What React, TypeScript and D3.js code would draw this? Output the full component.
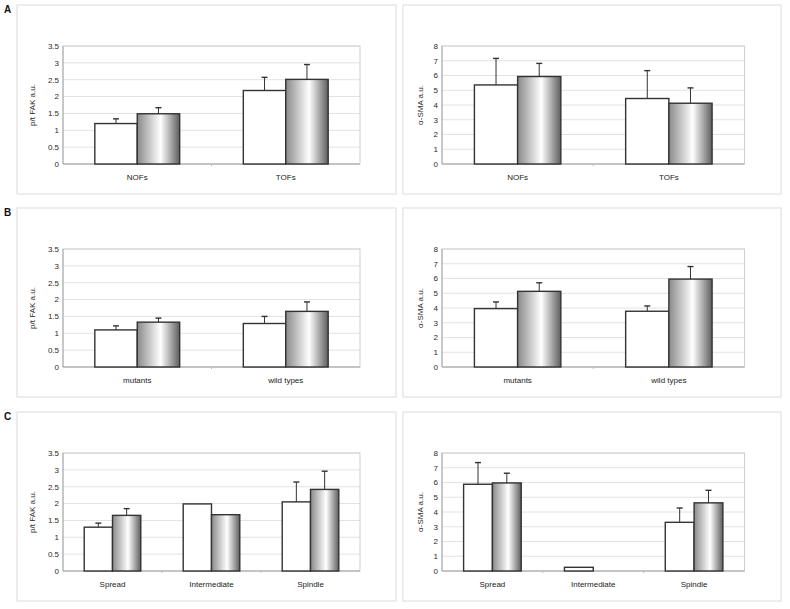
import React from "react";
import * as d3 from "d3";

// ---------- data ----------
const catsA = ["NOFs", "TOFs"];
const catsB = ["mutants", "wild types"];
const catsC = ["Spread", "Intermediate", "Spindle"];

const fakTicks = [0, 0.5, 1, 1.5, 2, 2.5, 3, 3.5];
const smaTicks = [0, 1, 2, 3, 4, 5, 6, 7, 8];

// A
const fakA_white = [1.2, 2.18];
const fakA_whiteErr = [0.14, 0.39];
const fakA_grey = [1.49, 2.51];
const fakA_greyErr = [0.18, 0.44];
const smaA_white = [5.36, 4.44];
const smaA_whiteErr = [1.8, 1.89];
const smaA_grey = [5.93, 4.12];
const smaA_greyErr = [0.89, 1.04];
// B
const fakB_white = [1.1, 1.29];
const fakB_whiteErr = [0.12, 0.21];
const fakB_grey = [1.33, 1.65];
const fakB_greyErr = [0.12, 0.28];
const smaB_white = [3.96, 3.78];
const smaB_whiteErr = [0.45, 0.36];
const smaB_grey = [5.13, 5.96];
const smaB_greyErr = [0.58, 0.85];
// C
const fakC_white = [1.3, 1.99, 2.05];
const fakC_whiteErr = [0.12, 0, 0.59];
const fakC_grey = [1.65, 1.67, 2.42];
const fakC_greyErr = [0.2, 0, 0.54];
const smaC_white = [5.88, 0.25, 3.3];
const smaC_whiteErr = [1.47, 0, 0.97];
const smaC_grey = [5.97, 0, 4.62];
const smaC_greyErr = [0.66, 0, 0.85];

const rowLetters = ["A", "B", "C"];

// ---------- layout ----------
const W = 790;
const H = 609;
const rowTops = [5, 208, 412];
const boxH = 189;
const colLefts = [17, 403];
const colWidths = [379, 378];
const plotLeftOff = [46, 39];
const plotWidths = [297, 302.5];
const plotTopOff = 41;
const plotBottomOff = 159;
const titleOff = [28, 19];
const FONT = "'Liberation Sans', Arial, sans-serif";

type PanelProps = {
  row: number;
  col: number;
  cats: string[];
  white: number[];
  whiteErr: number[];
  grey: number[];
  greyErr: number[];
  max: number;
  ticks: number[];
  title: string;
};

function Panel(p: PanelProps) {
  const bx = colLefts[p.col];
  const by = rowTops[p.row];
  const px = bx + plotLeftOff[p.col];
  const pw = plotWidths[p.col];
  const py = by + plotTopOff;
  const ph = plotBottomOff - plotTopOff;
  const y = d3.scaleLinear().domain([0, p.max]).range([py + ph, py]);
  const gap = 1.5 / 3.5;
  const x = d3
    .scaleBand<string>()
    .domain(p.cats)
    .range([px, px + pw])
    .paddingInner(gap)
    .paddingOuter(gap / 2);
  const xs = d3.scaleBand<string>().domain(["w", "g"]).range([0, x.bandwidth()]);
  const step = x.step();
  const series = [
    { key: "w", vals: p.white, errs: p.whiteErr, fill: "#ffffff" },
    { key: "g", vals: p.grey, errs: p.greyErr, fill: "url(#barGrad)" },
  ];
  return (
    <g>
      <rect x={bx} y={by} width={colWidths[p.col]} height={boxH} fill="#fff" stroke="#dcdcdc" strokeWidth={1} />
      {p.ticks.map((t) => (
        <line key={"g" + t} x1={px} x2={px + pw} y1={y(t)} y2={y(t)} stroke="#e2e2e2" strokeWidth={1} />
      ))}
      <rect x={px} y={py} width={pw} height={ph} fill="none" stroke="#cfcfcf" strokeWidth={1} />
      <line x1={px} x2={px} y1={py} y2={py + ph} stroke="#a8a8a8" strokeWidth={1} />
      <line x1={px} x2={px + pw} y1={py + ph} y2={py + ph} stroke="#a8a8a8" strokeWidth={1} />
      {p.cats.slice(1).map((c, i) => (
        <line key={"xt" + i} x1={px + step * (i + 1)} x2={px + step * (i + 1)} y1={py + ph} y2={py + ph + 2} stroke="#bbb" />
      ))}
      {p.ticks.map((t) => (
        <text key={"t" + t} x={px - 4} y={y(t)} dy="0.35em" textAnchor="end" fontSize={8} fill="#2a2a2a" fontFamily={FONT}>
          {String(t)}
        </text>
      ))}
      <text
        transform={`translate(${px - titleOff[p.col]},${py + ph / 2}) rotate(-90)`}
        textAnchor="middle"
        fontSize={8}
        fill="#2a2a2a"
        fontFamily={FONT}
      >
        {p.title}
      </text>
      {series.map((s) =>
        p.cats.map((c, i) => {
          const v = s.vals[i];
          if (!v) return null;
          const x0 = (x(c) as number) + (xs(s.key) as number);
          const bw = xs.bandwidth();
          return (
            <rect key={s.key + c} x={x0} y={y(v)} width={bw} height={y(0) - y(v)} fill={s.fill} stroke="#333" strokeWidth={1.4} />
          );
        })
      )}
      {series.map((s) =>
        p.cats.map((c, i) => {
          const v = s.vals[i];
          const e = s.errs[i];
          if (!v || !e) return null;
          const cx = (x(c) as number) + (xs(s.key) as number) + xs.bandwidth() / 2;
          return (
            <g key={"e" + s.key + c} stroke="#333" strokeWidth={1}>
              <line x1={cx} x2={cx} y1={y(v)} y2={y(v + e)} />
              <line x1={cx - 3} x2={cx + 3} y1={y(v + e)} y2={y(v + e)} strokeWidth={1.4} />
            </g>
          );
        })
      )}
      {p.cats.map((c) => (
        <text key={"c" + c} x={(x(c) as number) + x.bandwidth() / 2} y={py + ph + 16} textAnchor="middle" fontSize={8} fill="#222" fontFamily={FONT}>
          {c}
        </text>
      ))}
    </g>
  );
}

export default function App() {
  return (
    <svg width={W} height={H} style={{ position: "absolute", left: 0, top: 0, background: "#fff" }}>
      <defs>
        <linearGradient id="barGrad" x1="0" x2="1" y1="0" y2="0">
          <stop offset="0" stopColor="#8a8a8a" />
          <stop offset="0.55" stopColor="#ffffff" />
          <stop offset="1" stopColor="#5e5e5e" />
        </linearGradient>
      </defs>
      <rect x={0} y={0} width={W} height={H} fill="#fff" />
      {rowLetters.map((l, i) => (
        <text key={l} x={4} y={rowTops[i] + 7.5} fontSize={10} fontWeight="bold" fill="#111" fontFamily={FONT}>
          {l}
        </text>
      ))}
      <Panel row={0} col={0} cats={catsA} white={fakA_white} whiteErr={fakA_whiteErr} grey={fakA_grey} greyErr={fakA_greyErr} max={3.5} ticks={fakTicks} title="p/t FAK a.u." />
      <Panel row={0} col={1} cats={catsA} white={smaA_white} whiteErr={smaA_whiteErr} grey={smaA_grey} greyErr={smaA_greyErr} max={8} ticks={smaTicks} title="α-SMA a.u." />
      <Panel row={1} col={0} cats={catsB} white={fakB_white} whiteErr={fakB_whiteErr} grey={fakB_grey} greyErr={fakB_greyErr} max={3.5} ticks={fakTicks} title="p/t FAK a.u." />
      <Panel row={1} col={1} cats={catsB} white={smaB_white} whiteErr={smaB_whiteErr} grey={smaB_grey} greyErr={smaB_greyErr} max={8} ticks={smaTicks} title="α-SMA a.u." />
      <Panel row={2} col={0} cats={catsC} white={fakC_white} whiteErr={fakC_whiteErr} grey={fakC_grey} greyErr={fakC_greyErr} max={3.5} ticks={fakTicks} title="p/t FAK a.u." />
      <Panel row={2} col={1} cats={catsC} white={smaC_white} whiteErr={smaC_whiteErr} grey={smaC_grey} greyErr={smaC_greyErr} max={8} ticks={smaTicks} title="α-SMA a.u." />
    </svg>
  );
}
